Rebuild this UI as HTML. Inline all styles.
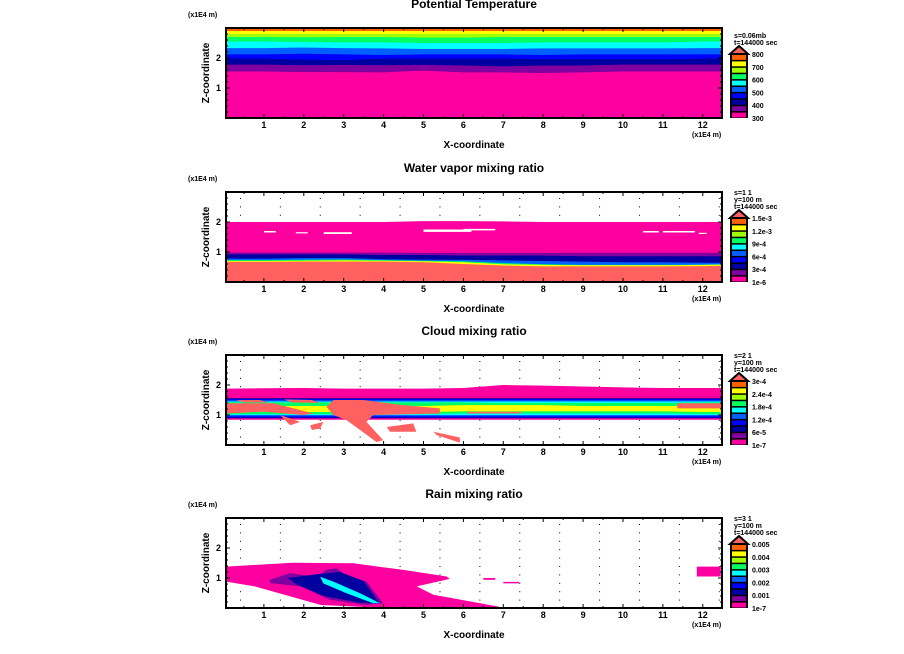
<!DOCTYPE html>
<html><head><meta charset="utf-8"><style>
html,body{margin:0;padding:0;background:#fff;width:904px;height:654px;overflow:hidden}
svg{display:block}
text{font-family:"Liberation Sans",sans-serif;font-weight:bold;fill:#000}
</style></head><body>
<svg id="chart" width="904" height="654" viewBox="0 0 904 654" xmlns="http://www.w3.org/2000/svg"></svg>
<script>
// ---- data ----
const palette = ["#ff00a0","#8000a0","#0000a0","#0000ff","#0060ff","#00ffff","#00ff60","#a0ff00","#ffff00","#ff6000"];
const overColor = "#ff6060";
const titles = ["Potential Temperature","Water vapor mixing ratio","Cloud mixing ratio","Rain mixing ratio"];
const cbLabels = [
  ["300","400","500","600","700","800"],
  ["1e-6","3e-4","6e-4","9e-4","1.2e-3","1.5e-3"],
  ["1e-7","6e-5","1.2e-4","1.8e-4","2.4e-4","3e-4"],
  ["1e-7","0.001","0.002","0.003","0.004","0.005"]
];
const infoLines = [
  ["s=0.06mb","t=144000 sec"],
  ["s=1 1","y=100 m","t=144000 sec"],
  ["s=2 1","y=100 m","t=144000 sec"],
  ["s=3 1","y=100 m","t=144000 sec"]
];
const xTicks = [1,2,3,4,5,6,7,8,9,10,11,12];
const zTicks = [1,2];
const xCols = [0,1,2,3,4,5,6,7,8,9,10,11,12,12.5];
const thetaLevels = [9,8,7,6,5,4,3,2,1,0];
const thetaTops = [
  [3,3,3,3,3,3,3,3,3,3,3,3,3,3],
  [2.9,2.9,2.9,2.9,2.9,2.9,2.9,2.9,2.9,2.9,2.9,2.9,2.9,2.9],
  [2.8,2.8,2.8,2.8,2.8,2.8,2.8,2.8,2.8,2.8,2.8,2.8,2.8,2.8],
  [2.7,2.7,2.69,2.7,2.7,2.68,2.68,2.7,2.7,2.7,2.7,2.7,2.7,2.7],
  [2.55,2.55,2.53,2.52,2.52,2.5,2.5,2.5,2.52,2.52,2.52,2.52,2.55,2.55],
  [2.33,2.33,2.35,2.33,2.32,2.3,2.3,2.3,2.32,2.32,2.32,2.32,2.33,2.33],
  [2.12,2.12,2.14,2.12,2.1,2.12,2.12,2.12,2.1,2.12,2.12,2.12,2.12,2.12],
  [1.98,1.98,1.95,1.93,1.98,1.98,1.98,1.98,1.96,1.96,1.96,1.96,1.98,1.98],
  [1.78,1.78,1.76,1.77,1.76,1.77,1.75,1.72,1.75,1.75,1.78,1.78,1.78,1.78],
  [1.55,1.55,1.53,1.53,1.52,1.58,1.52,1.52,1.5,1.52,1.55,1.55,1.55,1.55]
];
const qvLevels = [0,1,2,4,6,8,"over"];
const qvTops = [
  [2.0,2.0,2.0,2.0,2.0,2.03,2.03,2.02,2.0,2.0,2.0,2.0,2.0,2.0],
  [0.98,0.98,0.98,0.98,0.98,0.97,0.97,0.97,0.97,0.97,0.97,0.97,0.97,0.97],
  [0.92,0.92,0.92,0.92,0.9,0.9,0.88,0.88,0.88,0.86,0.86,0.86,0.86,0.86],
  [0.78,0.78,0.8,0.8,0.76,0.74,0.74,0.72,0.7,0.68,0.66,0.66,0.64,0.64],
  [0.73,0.73,0.74,0.75,0.73,0.71,0.69,0.63,0.59,0.57,0.57,0.57,0.58,0.59],
  [0.7,0.7,0.71,0.72,0.71,0.69,0.66,0.59,0.57,0.56,0.56,0.56,0.57,0.58],
  [0.67,0.67,0.68,0.68,0.68,0.66,0.6,0.55,0.52,0.52,0.52,0.52,0.53,0.54]
];
const qvHolesX = [[1.0,1.3],[1.8,2.1],[2.5,3.2],[5.0,6.2],[6.0,6.8],[10.5,10.9],[11.0,11.8],[11.9,12.1]];
const qvHolesZ = [[1.65,1.7],[1.62,1.66],[1.6,1.66],[1.67,1.75],[1.72,1.77],[1.65,1.7],[1.65,1.7],[1.6,1.64]];
const qcLevels = [0,2,3,4,5,6,8];
const qcBots = [
  [0.84,0.84,0.84,0.84,0.84,0.84,0.84,0.84,0.84,0.84,0.84,0.84,0.84,0.84],
  [0.89,0.89,0.89,0.89,0.89,0.89,0.89,0.89,0.89,0.89,0.89,0.89,0.89,0.89],
  [0.92,0.92,0.92,0.92,0.92,0.92,0.92,0.92,0.92,0.92,0.92,0.92,0.92,0.92],
  [0.96,0.96,0.96,0.96,0.96,0.96,0.96,0.96,0.96,0.96,0.96,0.96,0.96,0.96],
  [1.0,1.0,1.0,1.0,1.0,1.0,1.0,1.0,1.0,1.0,1.0,1.0,1.0,1.0],
  [1.03,1.03,1.03,1.03,1.03,1.03,1.05,1.05,1.05,1.05,1.05,1.05,1.03,1.03],
  [1.1,1.1,1.1,1.1,1.1,1.1,1.12,1.12,1.12,1.12,1.12,1.12,1.1,1.1]
];
const qcTops = [
  [1.88,1.89,1.9,1.88,1.88,1.88,1.9,2.0,1.98,1.95,1.92,1.9,1.9,1.9],
  [1.56,1.56,1.56,1.56,1.56,1.56,1.56,1.56,1.56,1.56,1.56,1.56,1.56,1.56],
  [1.53,1.53,1.53,1.53,1.53,1.53,1.53,1.53,1.53,1.53,1.53,1.53,1.53,1.53],
  [1.49,1.49,1.49,1.49,1.49,1.49,1.49,1.49,1.49,1.49,1.49,1.49,1.49,1.49],
  [1.45,1.45,1.45,1.45,1.45,1.45,1.45,1.45,1.45,1.45,1.45,1.45,1.45,1.45],
  [1.42,1.42,1.42,1.42,1.42,1.42,1.42,1.4,1.4,1.4,1.4,1.4,1.42,1.42],
  [1.3,1.3,1.3,1.3,1.3,1.3,1.33,1.33,1.33,1.3,1.3,1.3,1.3,1.3]
];
const qcBlobX = [
  [2.74,3.49,4.49,5.41,5.41,3.74,3.57,3.99,3.82,3.41,3.07,2.74,2.57],
  [0.07,1.24,2.24,1.99,0.99,0.07],
  [1.41,1.91,1.66,1.49],
  [2.16,2.49,2.41,2.2],
  [4.08,4.74,4.82,4.16],
  [5.25,5.91,5.91,5.33],
  [11.36,12.49,12.49,11.36],
  [6.1,7.44,7.44,6.1],
  [0.3,0.9,1.1,0.5],
  [1.5,2.2,2.4,1.7]
];
const qcBlobZ = [
  [1.5,1.5,1.33,1.22,1.05,1.0,0.77,0.16,0.1,0.5,0.83,1.0,1.27],
  [1.39,1.39,1.05,1.0,1.11,1.05],
  [1.0,0.77,0.66,0.88],
  [0.66,0.77,0.55,0.5],
  [0.6,0.72,0.44,0.44],
  [0.44,0.25,0.08,0.33],
  [1.39,1.39,1.22,1.22],
  [1.11,1.11,1.05,1.05],
  [1.5,1.5,1.42,1.42],
  [1.52,1.5,1.4,1.42]
];
const qrLevels = [0,0,0,0,1,2,5];
const qrBlobX = [
  [0.05,1.74,3.24,4.5,5.58,5.66,4.83,5.25,6.25,6.83,7.0,4.1,2.43,0.77,0.05],
  [11.85,12.45,12.45,11.85],
  [6.5,6.8,6.8,6.5],
  [7.0,7.4,7.4,7.0],
  [1.15,1.65,2.32,2.57,2.82,2.99,3.32,3.57,3.99,3.57,2.66,1.91,1.15],
  [1.6,2.3,2.9,3.5,3.9,3.4,2.5,1.8],
  [2.41,2.74,3.41,3.91,3.74,3.07,2.49]
];
const qrBlobZ = [
  [1.38,1.51,1.49,1.27,1.05,0.97,0.72,0.44,0.2,0.06,0,0,0.1,0.72,0.88],
  [1.38,1.38,1.05,1.05],
  [1.0,1.0,0.94,0.94],
  [0.87,0.87,0.82,0.82],
  [0.94,1.16,1.04,1.27,1.33,1.16,0.99,0.88,0.16,0.1,0.27,0.72,0.83],
  [1.0,1.12,1.2,0.9,0.15,0.18,0.4,0.8],
  [1.04,0.88,0.49,0.16,0.16,0.49,0.82]
];

// ---- layout ----
const NS = "http://www.w3.org/2000/svg";
const svg = document.getElementById("chart");
const panelTops = [28,192,355,518];
const L = 226, R = 722, H = 90;
function xs(x){ return 224 + 39.9*x; }
function zsF(top){ return z => top + H - 30*z; }
function mk(tag, attrs, parent){
  const e = document.createElementNS(NS, tag);
  for (const k in attrs) e.setAttribute(k, attrs[k]);
  (parent||svg).appendChild(e); return e;
}
function col(l){ return l === "over" ? overColor : palette[l]; }

panelTops.forEach((top, p) => {
  const zs = zsF(top);
  const g = mk("g", {});
  
  
  const clipId = "clip" + p;
  const cp = mk("clipPath", {id: clipId}, g);
  mk("rect", {x: L, y: top, width: R-L, height: H}, cp);
  const plot = mk("g", {"clip-path": "url(#" + clipId + ")"}, g);
  
  

  for (let xi = 0.4; xi < 12.5; xi += 1) for (let zi = 0.28; zi < 3; zi += 0.28) {
    const d = mk("rect", {x: xs(xi), y: zs(zi), width: 1, height: 1, fill: "#000"}, plot);
    
    
  }

  function area(tops, bots, color){
    let pts = xCols.map((x,i) => xs(x)+","+zs(tops[i]));
    const b = bots ? xCols.map((x,i) => xs(x)+","+zs(bots[i])).reverse() : [xs(12.5)+","+zs(0), xs(0)+","+zs(0)];
    const pl = mk("polygon", {points: pts.concat(b).join(" "), fill: color}, plot);
    
    
  }
  function blob(xArr, zArr, color){
    const pl = mk("polygon", {points: xArr.map((x,i) => xs(x)+","+zs(zArr[i])).join(" "), fill: color}, plot);
    
    
  }
  if (p === 0) thetaTops.forEach((t,i) => area(t, null, col(thetaLevels[i])));
  if (p === 1) {
    qvTops.forEach((t,i) => area(t, null, col(qvLevels[i])));
    qvHolesX.forEach((hx,i) => {
      const r = mk("rect", {x: xs(hx[0]), y: zs(qvHolesZ[i][1]), width: xs(hx[1])-xs(hx[0]), height: zs(qvHolesZ[i][0])-zs(qvHolesZ[i][1]), fill: "#fff"}, plot);
      
      
    });
  }
  if (p === 2) {
    qcTops.forEach((t,i) => area(t, qcBots[i], col(qcLevels[i])));
    qcBlobX.forEach((bx,i) => blob(bx, qcBlobZ[i], overColor));
  }
  if (p === 3) qrBlobX.forEach((bx,i) => blob(bx, qrBlobZ[i], col(qrLevels[i])));

  const fr = mk("rect", {x: L, y: top, width: R-L, height: H, fill: "none", stroke: "#000", "stroke-width": 2}, g);
  
  
  for (let x = 0.5; x < 12.5; x += 0.5) {
    const len = Number.isInteger(x) ? 4 : 2;
    mk("line", {x1: xs(x), x2: xs(x), y1: top+H, y2: top+H-len, stroke: "#000"}, g);
    mk("line", {x1: xs(x), x2: xs(x), y1: top, y2: top+len, stroke: "#000"}, g);
  }
  for (let z = 0.2; z < 3; z += 0.2) {
    const len = Math.abs(z - Math.round(z)) < 0.01 ? 4 : 2;
    mk("line", {x1: L, x2: L+len, y1: zs(z), y2: zs(z), stroke: "#000"}, g);
    mk("line", {x1: R, x2: R-len, y1: zs(z), y2: zs(z), stroke: "#000"}, g);
  }
  xTicks.forEach(x => {
    const t = mk("text", {x: xs(x), y: top+H+10, "font-size": 9, "text-anchor": "middle"}, g);
    t.textContent = x;
    
    
  });
  zTicks.forEach(z => {
    const t = mk("text", {x: L-5, y: zs(z)+3, "font-size": 9, "text-anchor": "end"}, g);
    t.textContent = z;
    
    
  });
  const tt = mk("text", {x: 474, y: top-20, "font-size": 12, "text-anchor": "middle"}, g);
  tt.textContent = titles[p];
  
  
  const u1 = mk("text", {x: 188, y: top-11, "font-size": 7}, g);
  u1.textContent = "(x1E4 m)";
  
  
  const u2 = mk("text", {x: 692, y: top+H+19, "font-size": 7}, g);
  u2.textContent = "(x1E4 m)";
  
  
  const xl = mk("text", {x: 474, y: top+H+30, "font-size": 10, "text-anchor": "middle"}, g);
  xl.textContent = "X-coordinate";
  
  
  const zl = mk("text", {x: 0, y: 0, "font-size": 10, "text-anchor": "middle", transform: "translate(209," + (top+H/2) + ") rotate(-90)"}, g);
  zl.textContent = "Z-coordinate";
  
  

  const cb = mk("g", {}, g);
  
  
  const cbTop = top + 26, cbBot = top + H, segH = (cbBot - cbTop)/10;
  mk("rect", {x: 730, y: cbTop, width: 18, height: cbBot-cbTop, fill: "#000"}, cb);
  for (let i = 0; i < 10; i++) {
    const r = mk("rect", {x: 732, y: cbBot - (i+1)*segH + 1, width: 14, height: segH - 1.5, fill: palette[i]}, cb);
    
    
  }
  const tri = mk("polygon", {points: "730," + cbTop + " 739," + (cbTop-8) + " 748," + cbTop, fill: overColor, stroke: "#000", "stroke-width": 2}, cb);
  
  
  cbLabels[p].forEach((lab, i) => {
    const t = mk("text", {x: 752, y: cbBot - i*2*segH + 3, "font-size": 7}, cb);
    t.textContent = lab;
    
    
  });
  const lines = infoLines[p];
  lines.forEach((ln, i) => {
    const t = mk("text", {x: 734, y: cbTop - 9 - (lines.length-1-i)*7, "font-size": 7, "font-weight": "normal"}, g);
    t.textContent = ln;
    
    
  });
});
</script>
</body></html>
